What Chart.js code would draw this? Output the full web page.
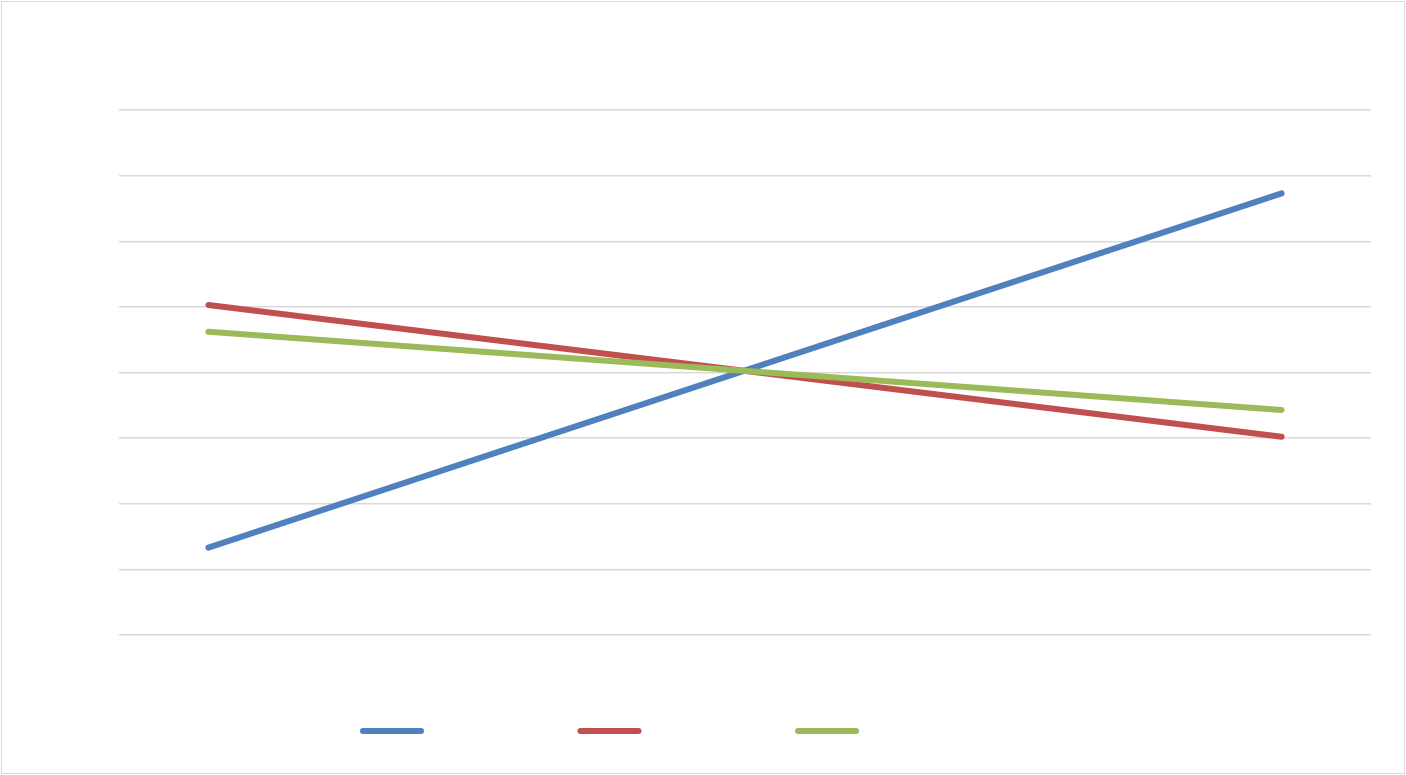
<!DOCTYPE html>
<html>
<head>
<meta charset="utf-8">
<script src="https://cdn.jsdelivr.net/npm/chart.js@4/dist/chart.umd.min.js"></script>
<style>
    html, body { margin: 0; padding: 0; background: #fff; }
    #wrap {
        position: absolute; left: 1px; top: 1px;
        width: 1404px; height: 773px;
        border: 1px solid #d9d9d9; box-sizing: border-box;
    }
    canvas { display: block; }
</style>
</head>
<body>
<div id="wrap"><canvas id="chart"></canvas></div>
<script>
// x-позиции точек (оси скрыты, подписей в оригинале нет)
const xValues = [1, 7];

const series1 = [1.33, 6.73];
const series2 = [5.03, 3.02];
const series3 = [4.62, 3.43];

const yTicks = [0, 1, 2, 3, 4, 5, 6, 7, 8];

const colors = ['#4f81bd', '#c0504d', '#9bbb59'];

function toPoints(values) {
    return values.map((v, i) => ({ x: xValues[i], y: v }));
}

// Легенда без текста: только отрезки линий
const lineLegend = {
    id: 'lineLegend',
    afterDraw(chart) {
        const ctx = chart.ctx;
        const startX = 358, step = 217.5, y = 729, len = 58;
        ctx.save();
        ctx.lineWidth = 6;
        ctx.lineCap = 'round';
        chart.data.datasets.forEach((ds, i) => {
            const x = startX + 3 + i * step;
            ctx.strokeStyle = ds.borderColor;
            ctx.beginPath();
            ctx.moveTo(x, y);
            ctx.lineTo(x + len, y);
            ctx.stroke();
        });
        ctx.restore();
    }
};

const wrap = document.getElementById('wrap');
const canvas = document.getElementById('chart');
canvas.width = 1402;
canvas.height = 771;

const ds = (data, color, order) => ({
    data: toPoints(data),
    borderColor: color,
    backgroundColor: color,
    borderWidth: 6,
    borderCapStyle: 'round',
    borderJoinStyle: 'round',
    pointRadius: 0,
    pointHoverRadius: 0,
    tension: 0,
    order: order
});

new Chart(canvas, {
    type: 'line',
    data: {
        datasets: [
            ds(series1, colors[0], 2),
            ds(series2, colors[1], 3),
            ds(series3, colors[2], 1)
        ]
    },
    options: {
        responsive: false,
        animation: false,
        devicePixelRatio: 1,
        layout: { padding: { left: 117, right: 33, top: 108, bottom: 138 } },
        plugins: {
            legend: { display: false },
            tooltip: { enabled: false }
        },
        scales: {
            x: {
                type: 'linear',
                min: 0.5,
                max: 7.5,
                display: false
            },
            y: {
                min: yTicks[0],
                max: yTicks[yTicks.length - 1],
                afterBuildTicks: (scale) => { scale.ticks = yTicks.map(v => ({ value: v })); },
                ticks: { display: false },
                border: { display: false },
                grid: { color: '#d9d9d9', lineWidth: 1.5, drawTicks: false }
            }
        }
    },
    plugins: [lineLegend]
});
</script>
</body>
</html>
